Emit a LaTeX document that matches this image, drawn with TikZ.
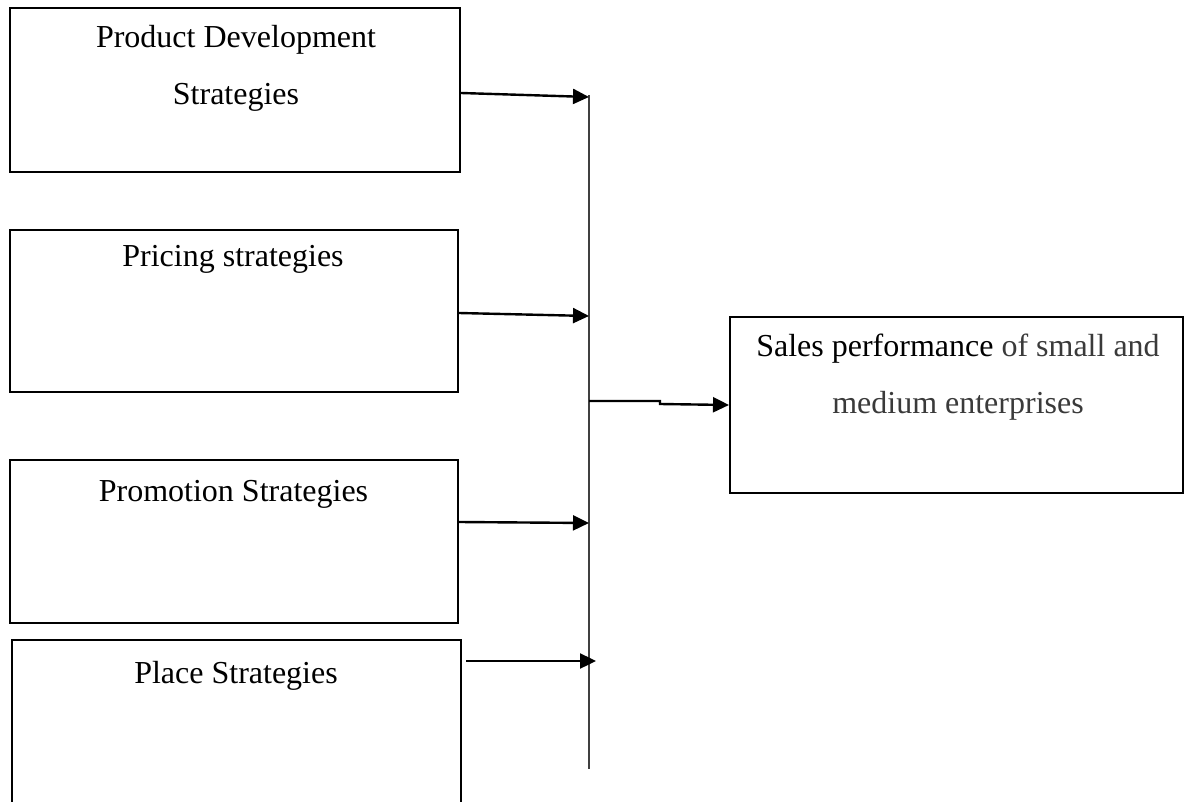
\documentclass[tikz,border=0pt]{standalone}
\usepackage{fontspec}
\setmainfont{Liberation Serif}
\usetikzlibrary{arrows.meta, positioning}
\definecolor{textGrey}{HTML}{3A3A3A}
\definecolor{busGrey}{HTML}{404040}

\begin{document}
\begin{tikzpicture}[x=0.5pt, y=-0.5pt,
    box/.style={draw, line width=1pt, inner sep=0pt},
    lbl/.style={font=\fontsize{16}{28.5}\selectfont, align=center, anchor=base, inner sep=0pt},
    feed/.style={line width=1.2pt, -{Triangle[length=8pt, width=7.5pt]}}]
  \useasboundingbox (0,0) rectangle (1188,802);
  \clip (0,0) rectangle (1188,802);
  % strategy boxes
  \node[box, minimum width=225pt, minimum height=82pt] (prodBox) at (235,90) {};
  \node[box, minimum width=224pt, minimum height=81pt] (priceBox) at (234,311) {};
  \node[box, minimum width=224pt, minimum height=81.5pt] (promoBox) at (234,541.5) {};
  \node[box, minimum width=224.5pt, minimum height=95pt] (placeBox) at (236.5,735) {};
  \node[box, minimum width=226.5pt, minimum height=88pt] (salesBox) at (956.5,405) {};
  % labels (base = last line)
  \node[lbl] (prodLbl) at (236,105) {Product Development\\Strategies};
  \node[lbl] (priceLbl) at (233,267) {Pricing strategies};
  \node[lbl] (promoLbl) at (233.5,501) {Promotion Strategies};
  \node[lbl] (placeLbl) at (236,683) {Place Strategies};
  \node[lbl] (salesLbl) at (958,413) {Sales performance {\color{textGrey}of small and}\\{\color{textGrey}medium enterprises}};
  % bus line
  \coordinate (busTop) at (589,95);
  \coordinate (busBot) at (589,769);
  \draw[busGrey, line width=0.6pt] (busTop) -- (busBot);
  \coordinate (b1) at (589,97);
  \coordinate (b2) at (589,316);
  \coordinate (b3) at (589,523);
  \coordinate (b4) at (596,661);
  \coordinate (b0) at (589,401);
  % arrows into the bus
  \draw[feed] ([yshift=-1.5pt]prodBox.east) -- (b1);
  \draw[feed] ([yshift=-1pt]priceBox.east) -- (b2);
  \draw[feed] ([yshift=9.75pt]promoBox.east) -- (b3);
  \draw[feed] ([xshift=2pt, yshift=37pt]placeBox.east) -- (b4);
  % arrow to sales
  \draw[feed] (b0) -- ++(71,0) -- ++(0,3) -- (salesBox.west);
\end{tikzpicture}
\end{document}
